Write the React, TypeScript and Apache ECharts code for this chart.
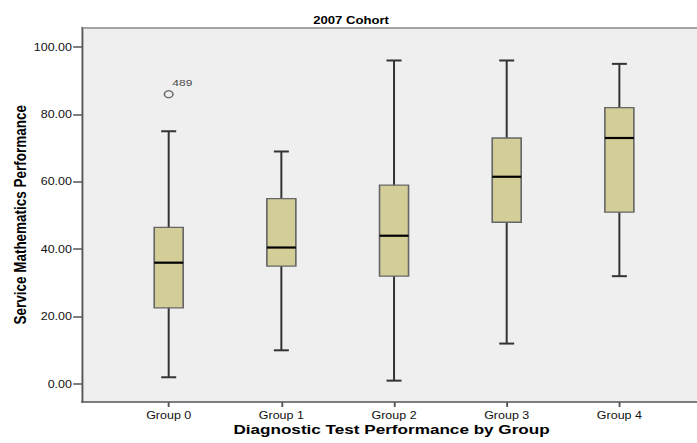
import React, { useEffect, useRef } from "react";
import * as echarts from "echarts";

const categories = ["Group 0", "Group 1", "Group 2", "Group 3", "Group 4"];
const mins = [2, 10, 1, 12, 32];
const q1s = [22.6, 35, 32, 48, 51];
const medians = [36, 40.5, 44, 61.5, 73];
const q3s = [46.5, 55, 59, 73, 82];
const maxs = [75, 69, 96, 96, 95];
const outlierGroups = [0];
const outlierValues = [86];
const outlierLabels = ["489"];
const yTicks = [0, 20, 40, 60, 80, 100];
const xTicks = [0, 1, 2, 3, 4];

const STRETCH = 697 / 558;
const FONT = "'Liberation Sans', Arial, sans-serif";

export default function App() {
  const ref = useRef<HTMLDivElement>(null);
  useEffect(() => {
    if (!ref.current) return;
    const chart = echarts.init(ref.current, undefined, { renderer: "svg" });
    const boxData = categories.map((_, i) => [i, mins[i], q1s[i], medians[i], q3s[i], maxs[i]]);
    const outData = outlierGroups.map((g, i) => ({ value: [g, outlierValues[i]], name: outlierLabels[i] }));
    chart.setOption({
      animation: false,
      backgroundColor: "#ffffff",
      title: {
        text: "2007 Cohort",
        left: 281,
        textAlign: "center",
        top: 15,
        padding: 0,
        textStyle: { fontFamily: FONT, fontSize: 10.5, fontWeight: "bold", color: "#000" },
      },
      grid: {
        left: 65.6,
        right: 14.7,
        top: 27.5,
        bottom: 41,
        containLabel: false,
        outerBoundsMode: "none",
        show: true,
        backgroundColor: "#efefef",
        borderWidth: 0,
      },
      xAxis: [
        {
          type: "value",
          min: -0.77,
          max: 4.77,
          name: "Diagnostic Test Performance by Group",
          nameLocation: "middle",
          nameGap: 20,
          nameMoveOverlap: false,
          nameTextStyle: { fontFamily: FONT, fontSize: 13.7, fontWeight: "bold", color: "#000", padding: [0, 4, 0, 0] },
          splitLine: { show: false },
          axisLine: { show: true, onZero: false, lineStyle: { color: "#555", width: 1.5 } },
          axisTick: { show: true, customValues: xTicks, length: 5, lineStyle: { color: "#555", width: 1.5 } },
          axisLabel: {
            customValues: xTicks,
            formatter: (v: number) => categories[Math.round(v)] ?? "",
            fontFamily: FONT,
            fontSize: 10,
            color: "#111",
            margin: 8,
          },
        },
        {
          type: "value",
          position: "top",
          min: -0.77,
          max: 4.77,
          splitLine: { show: false },
          axisLine: { show: true, onZero: false, lineStyle: { color: "#8a8a8a", width: 1.5 } },
          axisTick: { show: false },
          axisLabel: { show: false },
        },
      ],
      yAxis: {
        type: "value",
        min: -5.34,
        max: 105.79,
        name: "Service Mathematics Performance",
        nameLocation: "middle",
        nameRotate: 90,
        nameGap: 43,
        nameMoveOverlap: false,
        nameTextStyle: { fontFamily: FONT, fontSize: 13.5, fontWeight: "bold", color: "#000" },
        splitLine: { show: false },
        axisLine: { show: true, onZero: false, lineStyle: { color: "#555", width: 1.5 } },
        axisTick: { show: true, customValues: yTicks, length: 7, lineStyle: { color: "#555", width: 1.5 } },
        axisLabel: {
          customValues: yTicks,
          formatter: (v: number) => v.toFixed(2),
          fontFamily: FONT,
          fontSize: 10,
          color: "#111",
          margin: 8,
        },
      },
      series: [
        {
          type: "custom",
          data: boxData,
          encode: { x: 0, y: [1, 2, 3, 4, 5] },
          renderItem: (params: any, api: any) => {
            const x = api.value(0);
            const lo = api.coord([x, api.value(1)]);
            const q1 = api.coord([x, api.value(2)]);
            const md = api.coord([x, api.value(3)]);
            const q3 = api.coord([x, api.value(4)]);
            const hi = api.coord([x, api.value(5)]);
            const bw = 23.2;
            const cw = 12;
            const cx = lo[0];
            return {
              type: "group",
              children: [
                { type: "line", shape: { x1: cx, y1: hi[1], x2: cx, y2: lo[1] }, style: { stroke: "#333", lineWidth: 1.6 } },
                { type: "line", shape: { x1: cx - cw / 2, y1: hi[1], x2: cx + cw / 2, y2: hi[1] }, style: { stroke: "#333", lineWidth: 2 } },
                { type: "line", shape: { x1: cx - cw / 2, y1: lo[1], x2: cx + cw / 2, y2: lo[1] }, style: { stroke: "#333", lineWidth: 2 } },
                {
                  type: "rect",
                  shape: { x: cx - bw / 2, y: q3[1], width: bw, height: q1[1] - q3[1] },
                  style: { fill: "#d3ce97", stroke: "#666", lineWidth: 1.3 },
                },
                { type: "line", shape: { x1: cx - bw / 2, y1: md[1], x2: cx + bw / 2, y2: md[1] }, style: { stroke: "#000", lineWidth: 2.2 } },
              ],
            };
          },
        },
        {
          type: "scatter",
          data: outData,
          symbol: "circle",
          symbolSize: 7,
          itemStyle: { color: "transparent", borderColor: "#444", borderWidth: 1.2 },
          label: {
            show: true,
            formatter: (p: any) => p.name,
            position: [7, -8],
            align: "left",
            verticalAlign: "middle",
            fontFamily: FONT,
            fontSize: 9.6,
            color: "#111",
          },
        },
      ],
    });
    return () => chart.dispose();
  }, []);
  return (
    <div style={{ position: "fixed", left: 0, top: 0, width: 697, height: 443, overflow: "hidden", background: "#ffffff" }}>
      <div
        ref={ref}
        style={{
          position: "absolute",
          left: 0,
          top: 0,
          width: 580,
          height: 443,
          transform: `scaleX(${STRETCH})`,
          transformOrigin: "0 0",
        }}
      />
    </div>
  );
}
